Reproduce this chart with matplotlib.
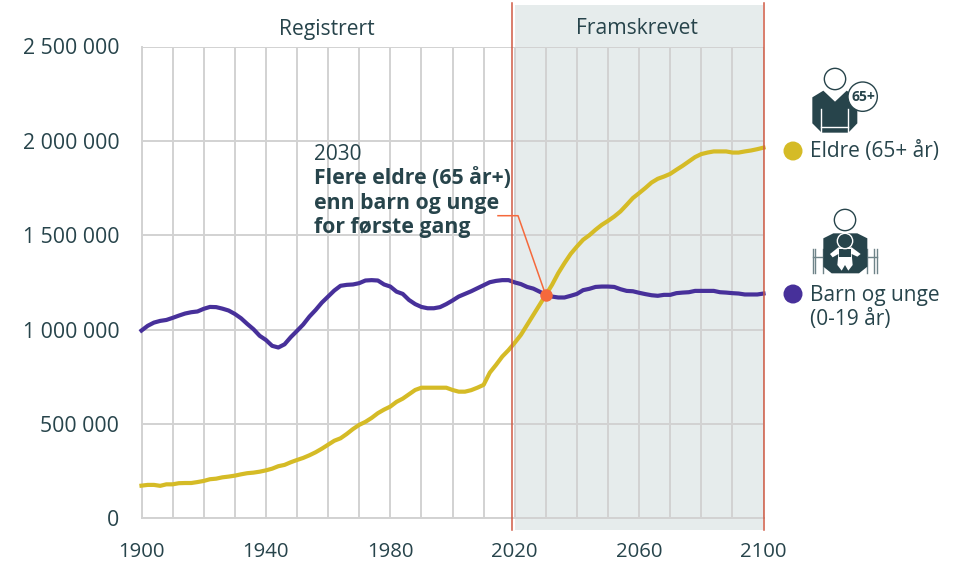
import matplotlib
matplotlib.use("Agg")
import matplotlib.pyplot as plt
from matplotlib.patches import Circle, Polygon

plt.rcParams["font.family"] = ["Open Sans", "DejaVu Sans"]

YEARS = list(range(1900, 2101, 2))
CHILDREN = [
    995, 1020, 1037, 1046, 1051, 1062, 1074, 1085, 1092, 1096,
    1110, 1120, 1119, 1111, 1101, 1083, 1060, 1030, 1002, 967,
    945, 914, 905, 922, 960, 993, 1027, 1069, 1104, 1143,
    1175, 1207, 1232, 1237, 1239, 1246, 1260, 1262, 1260, 1239,
    1228, 1201, 1189, 1157, 1135, 1120, 1113, 1113, 1119, 1135,
    1154, 1175, 1189, 1203, 1219, 1235, 1251, 1258, 1262, 1262,
    1250, 1241, 1226, 1217, 1201, 1184, 1175, 1170, 1170, 1179,
    1189, 1209, 1216, 1226, 1228, 1228, 1226, 1214, 1205, 1203,
    1195, 1188, 1182, 1179, 1184, 1184, 1193, 1196, 1198, 1205,
    1205, 1205, 1205, 1198, 1196, 1193, 1191, 1186, 1186, 1186,
    1191,
]
ELDERLY = [
    173, 177, 177, 172, 180, 180, 186, 187, 187, 192,
    198, 207, 210, 217, 221, 226, 233, 239, 242, 247,
    254, 263, 276, 283, 297, 309, 320, 334, 350, 369,
    390, 411, 424, 447, 473, 495, 511, 532, 557, 576,
    592, 617, 634, 657, 680, 692, 692, 692, 692, 692,
    680, 671, 671, 679, 692, 707, 772, 813, 857, 891,
    930, 972, 1025, 1078, 1131, 1184, 1237, 1299, 1352, 1401,
    1440, 1476, 1500, 1529, 1555, 1576, 1599, 1626, 1661, 1697,
    1723, 1750, 1779, 1799, 1811, 1825, 1847, 1868, 1891, 1914,
    1930, 1938, 1944, 1944, 1944, 1938, 1938, 1944, 1949, 1956,
    1964,
]
CROSS_YEAR = 2030
CROSS_VALUE = 1184
X_TICKS = [1900, 1940, 1980, 2020, 2060, 2100]
Y_TICKS = [0, 500000, 1000000, 1500000, 2000000, 2500000]
Y_LABELS = ["0", "500 000", "1 000 000", "1 500 000", "2 000 000", "2 500 000"]

INK, GRID, SHADE = "#27444b", "#d2d2d2", "#e6ecec"
YELLOW, PURPLE, ORANGE, RED = "#d5bb26", "#47309a", "#f5693c", "#cf5a44"
W, H = 970, 563

fig = plt.figure(figsize=(W / 100, H / 100), dpi=100)
L, R, T, B = 141.5, 763.5, 46.5, 518.3
ax = fig.add_axes([L / W, 1 - B / H, (R - L) / W, (B - T) / H])
ax.set_xlim(1900, 2100)
ax.set_ylim(0, 2500000)

# shaded forecast and the two red lines run past the plot area
frac_low, frac_high = -(530 - B) / (B - T), (B - 5) / (B - T)
ax.axvspan(2020, 2100, frac_low, frac_high, color=SHADE, lw=0, zorder=0, clip_on=False)
for yr in [2019, 2100]:
    ax.axvline(yr, -(530 - B) / (B - T), (B - 3) / (B - T), color=RED, lw=1.1, zorder=4, clip_on=False)

ax.set_xticks(range(1900, 2101, 10), minor=True)
ax.set_xticks(X_TICKS)
ax.set_xticklabels(X_TICKS)
ax.set_yticks(Y_TICKS)
ax.set_yticklabels(Y_LABELS)
ax.grid(True, which="both", color=GRID, lw=1.4, zorder=1)
ax.set_axisbelow(True)
ax.tick_params(which="both", length=0)
ax.tick_params(axis="x", labelsize=14.7, labelcolor=INK, pad=17)
ax.tick_params(axis="y", labelsize=15.3, labelcolor=INK, pad=16)
for s in ["top", "right"]:
    ax.spines[s].set_visible(False)
for s in ["left", "bottom"]:
    ax.spines[s].set_color(GRID)
    ax.spines[s].set_linewidth(1.4)

ax.plot(YEARS, [v * 1000 for v in ELDERLY], color=YELLOW, lw=3, zorder=3, clip_on=False)
ax.plot(YEARS, [v * 1000 for v in CHILDREN], color=PURPLE, lw=3, zorder=3, clip_on=False)
ax.plot([CROSS_YEAR], [CROSS_VALUE * 1000], "o", color=ORANGE, ms=9, mew=0, zorder=6)

# overlay in pixel coordinates for texts, legend and icons
ov = fig.add_axes([0, 0, 1, 1])
ov.set_xlim(0, W)
ov.set_ylim(H, 0)
ov.axis("off")
ov.patch.set_alpha(0)

ov.text(326.5, 29, "Registrert", fontsize=15.2, color=INK, ha="center", va="center")
ov.text(636.5, 29, "Framskrevet", fontsize=15.2, color=INK, ha="center", va="center")

ov.text(314, 154, "2030", fontsize=15, color=INK, va="center")
for y, line in zip([178, 203, 227], ["Flere eldre (65 år+)", "enn barn og unge", "for første gang"]):
    ov.text(314, y, line, fontsize=15.3, color=INK, va="center", weight="bold")
ov.plot([498, 518, 545], [215.7, 215.7, 293], color=ORANGE, lw=1.1, zorder=5)


def z(pts):
    return [(780 + x / 3, 60 + y / 3) for x, y in pts]


def dot(x, y, r, **kw):
    cx, cy = z([(x, y)])[0]
    ov.add_patch(Circle((cx, cy), r / 3, **kw))


# elderly icon
dot(165, 57, 32, fc="white", ec=INK, lw=1)
ov.add_patch(Polygon(z([(97, 112), (130, 92), (165, 125), (200, 92), (232, 112), (232, 190),
                        (205, 218), (125, 218), (97, 190)]), fc=INK, ec="none"))
ov.plot(*zip(*z([(122, 148), (122, 218)])), color="white", lw=1)
ov.plot(*zip(*z([(205, 148), (205, 218)])), color="white", lw=1)
ov.plot(*zip(*z([(122, 200), (205, 200)])), color="white", lw=1)
dot(248, 110, 44, fc="white", ec=INK, lw=1, zorder=4)
cx, cy = z([(250, 112)])[0]
ov.text(cx, cy, "65+", fontsize=10, color=INK, weight="bold", ha="center", va="center", zorder=5)

# child icon
dot(195, 480, 32, fc="white", ec=INK, lw=1)
for xs in [(98, 130, 105), (262, 290, 283)]:
    for x in xs:
        ov.plot(*zip(*z([(x, 568), (x, 640)])), color="#6f8489", lw=1)
    ov.plot(*zip(*z([(xs[0], 590), (xs[1], 590)])), color="#6f8489", lw=1)
ov.add_patch(Polygon(z([(130, 535), (160, 520), (232, 520), (262, 535), (262, 620), (237, 640),
                        (155, 640), (130, 620)]), fc=INK, ec="none", zorder=3))
ov.add_patch(Polygon(z([(150, 582), (175, 562), (215, 562), (242, 582), (232, 590), (215, 582),
                        (218, 615), (205, 632), (195, 615), (185, 632), (172, 615), (175, 582), (158, 592)]),
                     fc="white", ec="none", zorder=4))
ov.add_patch(Polygon(z([(178, 566), (212, 566), (212, 590), (178, 590)]), fc=INK, ec="none", zorder=4))
dot(195, 543, 23, fc=INK, ec="white", lw=1, zorder=5)

# legend
ov.add_patch(Circle((793, 151), 9.5, fc=YELLOW, ec="none"))
ov.add_patch(Circle((793, 294), 9.5, fc=PURPLE, ec="none"))
ov.text(810, 151, "Eldre (65+ år)", fontsize=15, color=INK, va="center")
ov.text(810, 295, "Barn og unge", fontsize=15, color=INK, va="center")
ov.text(810, 319, "(0-19 år)", fontsize=15, color=INK, va="center")

fig.savefig("out.png", dpi=100)
